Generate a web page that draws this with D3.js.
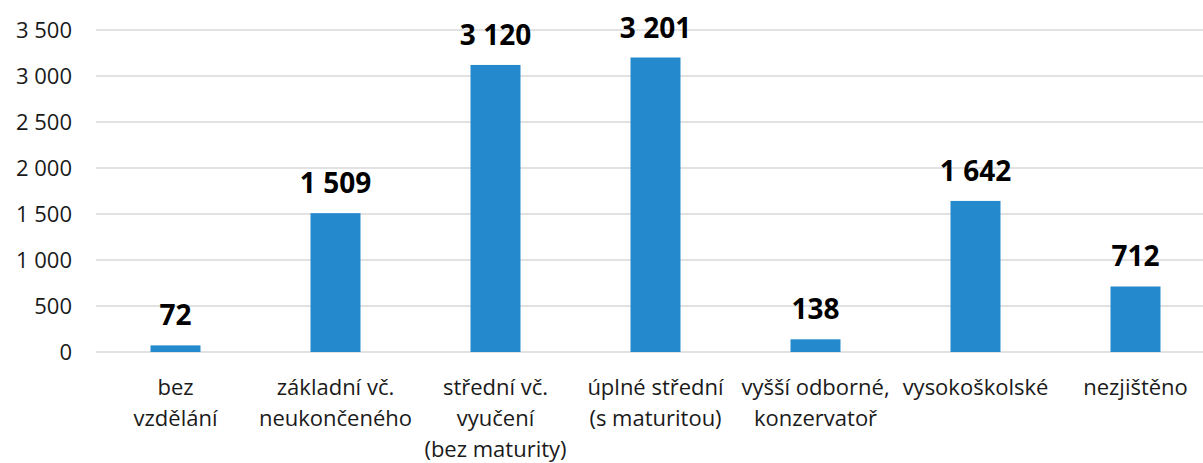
<!DOCTYPE html>
<html><head><meta charset="utf-8">
<script src="https://cdn.jsdelivr.net/npm/d3@7"></script>
<style>html,body{margin:0;padding:0;background:#fff;}svg{display:block;}</style>
</head><body>
<svg id="chart" width="1203" height="463"></svg>
<script>
const categories = [
  ["bez","vzdělání"],
  ["základní vč.","neukončeného"],
  ["střední vč.","vyučení","(bez maturity)"],
  ["úplné střední","(s maturitou)"],
  ["vyšší odborné,","konzervatoř"],
  ["vysokoškolské"],
  ["nezjištěno"]
];
const values = [72, 1509, 3120, 3201, 138, 1642, 712];
const yTicks = [0, 500, 1000, 1500, 2000, 2500, 3000, 3500];

const svg = d3.select("#chart");
const font = "'Open Sans', 'Noto Sans', sans-serif";
const fmt = v => d3.format(",")(v).replace(/,/g, "\u00a0");

const x = d3.scaleBand().domain(d3.range(categories.length)).range([95.5, 1215.5]).paddingInner(0.6875).paddingOuter(0.34375);
const y = d3.scaleLinear().domain([0, 3500]).range([352, 30]);

// gridlines
svg.append("g").selectAll("line").data(yTicks).join("line")
  .attr("x1", 96).attr("x2", 1203)
  .attr("y1", d => y(d)).attr("y2", d => y(d))
  .attr("stroke", "#d9d9d9").attr("stroke-width", 1.3);

// y axis
const yAxis = svg.append("g").attr("transform", "translate(72,0)")
  .call(d3.axisLeft(y).tickValues(yTicks).tickSize(0).tickPadding(0).tickFormat(fmt));
yAxis.select(".domain").remove();
yAxis.selectAll("text").attr("font-family", font).attr("font-size", 22).attr("fill", "#1a1a1a");

// bars
svg.append("g").selectAll("rect").data(values).join("rect")
  .attr("x", (d, i) => x(i)).attr("width", x.bandwidth())
  .attr("y", d => y(d)).attr("height", d => y(0) - y(d))
  .attr("fill", "#2589cd");

// value labels
svg.append("g").selectAll("text").data(values).join("text")
  .attr("x", (d, i) => x(i) + x.bandwidth() / 2)
  .attr("y", d => y(d) - 20)
  .attr("text-anchor", "middle")
  .attr("font-family", font).attr("font-size", 28).attr("font-weight", "bold")
  .attr("fill", "#000")
  .text(fmt);

// x labels
const xl = svg.append("g").selectAll("text").data(categories).join("text")
  .attr("text-anchor", "middle")
  .attr("font-family", font).attr("font-size", 22).attr("fill", "#1a1a1a")
  .attr("transform", (d, i) => `translate(${x(i) + x.bandwidth() / 2},395)`);
xl.selectAll("tspan").data(d => d).join("tspan")
  .attr("x", 0).attr("y", (d, j) => j * 31).text(d => d);
</script>
</body></html>
